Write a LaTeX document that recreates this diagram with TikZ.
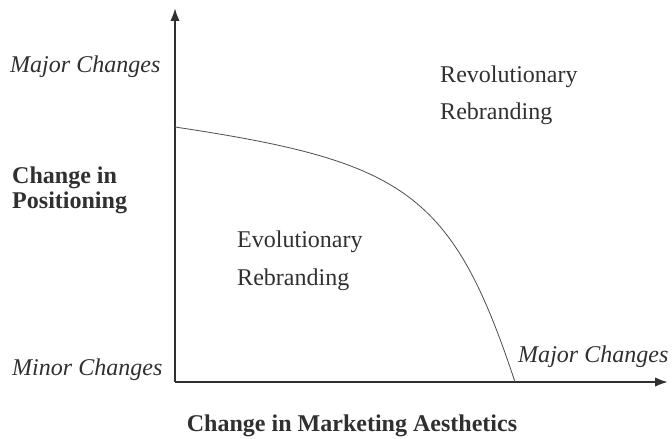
\documentclass[tikz,border=0pt]{standalone}
\usepackage{fontspec}
\setmainfont{Liberation Serif}
\usetikzlibrary{arrows.meta}
\definecolor{inkgray}{HTML}{303030}
\definecolor{linegray}{HTML}{505050}
\tikzset{
    axis/.style = {draw=inkgray, line width=1.8pt, -{Latex[length=11pt,width=8pt]}},
    border/.style = {draw=linegray, line width=0.7pt},
    scale label/.style = {font=\fontsize{20.5}{24}\selectfont\itshape, text=inkgray, anchor=base west, inner sep=0pt},
    axis label/.style = {font=\fontsize{20.5}{24}\selectfont\bfseries, text=inkgray, inner sep=0pt},
    region/.style = {font=\fontsize{20.5}{24}\selectfont, text=inkgray, anchor=base west, inner sep=0pt}
}

\begin{document}
\begin{tikzpicture}[x=0.03cm, y=-0.03cm]
    \useasboundingbox (0,0) rectangle (672,438);
    % axes
    \coordinate (origin) at (175,382);
    \coordinate (ytip) at (175,8);
    \coordinate (xtip) at (668,382);
    \draw [axis] (origin) -- (ytip);
    \draw [axis] (origin) -- (xtip);
    % boundary between the two regions
    \coordinate (bstart) at (175,127);
    \coordinate (bend) at (515,382);
    \draw [border] (bstart) .. controls (405,161.5) and (452,192) .. (bend);
    % scale labels
    \node [scale label] (ymajor) at (10,72) {Major Changes};
    \node [scale label] (yminor) at (12,375) {Minor Changes};
    \node [scale label] (xmajor) at (518,362) {Major Changes};
    % axis titles
    \node [axis label, anchor=base west] (ytitle1) at (12,183) {Change in};
    \node [axis label, anchor=base west] (ytitle2) at (12,208) {Positioning};
    \node [axis label] (xtitle) at (352,426) {Change in Marketing Aesthetics};
    % regions
    \node [region] (revo1) at (440,82) {Revolutionary};
    \node [region] (revo2) at (440,119) {Rebranding};
    \node [region] (evo1) at (237,247) {Evolutionary};
    \node [region] (evo2) at (237,285) {Rebranding};
\end{tikzpicture}
\end{document}
